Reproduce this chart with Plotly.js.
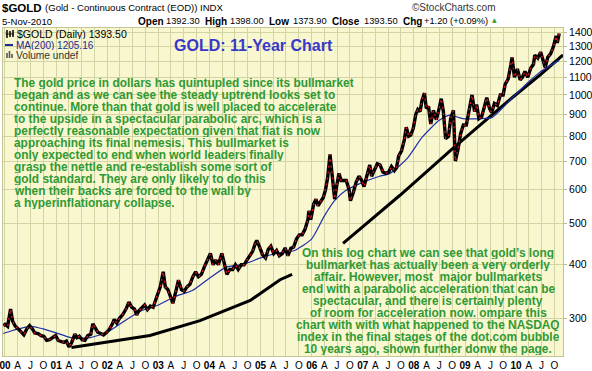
<!DOCTYPE html>
<html><head><meta charset="utf-8">
<script src="https://cdn.plot.ly/plotly-3.0.1.min.js"></script>
<style>html,body{margin:0;padding:0;background:#fff;overflow:hidden}#chart{width:592px;height:371px}</style>
</head><body><div id="chart"></div>
<script>
// ---- data ----
const goldDates = [
"1999-12-20","2000-01-03","2000-01-20","2000-02-04","2000-02-10","2000-02-25","2000-03-15","2000-04-05","2000-04-25","2000-05-15","2000-06-05","2000-06-25","2000-07-15","2000-08-01","2000-08-25","2000-09-15","2000-10-05","2000-10-25","2000-11-15","2000-12-05","2000-12-28",
"2001-01-15","2001-02-05","2001-02-25","2001-03-15","2001-04-02","2001-04-20","2001-05-15","2001-05-30","2001-06-15","2001-07-05","2001-07-25","2001-08-15","2001-09-05","2001-09-20","2001-10-05","2001-10-25","2001-11-15","2001-12-05","2001-12-28",
"2002-01-15","2002-02-05","2002-02-20","2002-03-10","2002-03-30","2002-04-20","2002-05-15","2002-06-05","2002-06-25","2002-07-15","2002-07-30","2002-08-15","2002-09-05","2002-09-25","2002-10-15","2002-11-05","2002-11-25","2002-12-10","2002-12-30",
"2003-01-15","2003-02-05","2003-02-20","2003-03-10","2003-03-30","2003-04-15","2003-05-05","2003-05-25","2003-06-15","2003-07-05","2003-07-25","2003-08-15","2003-09-05","2003-09-25","2003-10-15","2003-11-05","2003-11-25","2003-12-10","2003-12-30",
"2004-01-08","2004-01-28","2004-02-15","2004-03-05","2004-03-30","2004-04-15","2004-05-05","2004-05-25","2004-06-15","2004-07-05","2004-07-25","2004-08-15","2004-09-05","2004-09-25","2004-10-15","2004-11-05","2004-11-25","2004-12-05","2004-12-25",
"2005-01-15","2005-02-05","2005-02-25","2005-03-15","2005-04-05","2005-04-25","2005-05-15","2005-06-05","2005-06-25","2005-07-15","2005-08-05","2005-08-25","2005-09-15","2005-10-05","2005-10-25","2005-11-15","2005-12-05","2005-12-12","2005-12-25",
"2006-01-15","2006-02-01","2006-02-15","2006-03-05","2006-03-25","2006-04-10","2006-04-25","2006-05-12","2006-05-25","2006-06-14","2006-06-30","2006-07-15","2006-07-30","2006-08-15","2006-09-05","2006-09-25","2006-10-05","2006-10-25","2006-11-15","2006-12-05","2006-12-25",
"2007-01-10","2007-01-30","2007-02-20","2007-03-05","2007-03-25","2007-04-15","2007-05-05","2007-05-25","2007-06-15","2007-07-05","2007-07-25","2007-08-15","2007-08-30","2007-09-15","2007-10-05","2007-10-25","2007-11-08","2007-11-25","2007-12-10","2007-12-28",
"2008-01-15","2008-01-30","2008-02-15","2008-02-28","2008-03-17","2008-03-30","2008-04-15","2008-05-01","2008-05-20","2008-06-10","2008-06-30","2008-07-15","2008-07-30","2008-08-15","2008-09-05","2008-09-20","2008-10-10","2008-10-24","2008-11-10","2008-11-30","2008-12-20",
"2009-01-10","2009-01-30","2009-02-20","2009-03-10","2009-03-25","2009-04-10","2009-04-30","2009-05-20","2009-06-05","2009-06-25","2009-07-10","2009-07-30","2009-08-20","2009-09-10","2009-09-30","2009-10-15","2009-11-05","2009-11-25","2009-12-03","2009-12-20",
"2010-01-10","2010-01-30","2010-02-15","2010-03-05","2010-03-25","2010-04-15","2010-05-05","2010-05-15","2010-06-05","2010-06-25","2010-07-15","2010-07-28","2010-08-15","2010-09-05","2010-09-25","2010-10-14","2010-10-22","2010-11-05"];
const goldClose = [
288,290,287,310,315,295,287,283,278,274,283,288,283,277,276,273,272,266,267,270,273,
266,264,263,265,257,262,275,270,272,267,266,273,275,291,286,278,276,274,278,
282,290,298,292,300,305,315,327,318,315,305,312,318,322,314,320,318,328,345,
355,385,355,350,333,325,345,368,350,347,355,360,375,385,375,380,395,405,415,
425,400,410,400,425,405,380,390,390,400,390,400,400,410,420,430,450,456,440,
422,415,435,442,425,432,420,425,438,420,437,440,460,470,470,485,510,535,510,
555,570,550,560,575,600,640,725,660,570,615,655,630,630,630,600,565,590,625,645,630,
610,650,685,645,665,690,685,660,655,660,680,665,675,720,740,785,840,800,805,835,
900,925,915,970,1010,930,940,855,920,875,930,980,915,790,800,880,920,700,740,810,850,
850,920,1000,915,950,880,890,940,985,930,910,955,945,1000,1000,1060,1090,1180,1225,1100,
1150,1085,1100,1135,1100,1155,1180,1240,1220,1260,1205,1160,1225,1250,1300,1375,1325,1393];

const maDates = ["1999-12-20","2000-03-01","2000-07-01","2000-10-01","2001-01-01","2001-04-15","2001-09-01","2002-01-01","2002-05-01","2002-09-01","2003-01-01","2003-05-01","2003-09-01","2004-01-01","2004-05-01","2004-09-01","2005-01-01","2005-05-01","2005-09-01","2006-01-01","2006-04-01","2006-06-15","2006-09-01","2007-01-01","2007-05-01","2007-07-15","2007-11-15","2008-03-01","2008-07-01","2008-09-15","2008-12-15","2009-04-15","2009-07-15","2009-12-10","2010-04-15","2010-06-20","2010-11-05"];
const maValues = [276,281,287,283,277,270,270,278,295,312,322,337,348,372,395,401,415,426,432,460,520,566,597,624,645,655,710,796,872,897,880,880,886,989,1084,1131,1205];

const trendDates = ["2001-04-20","2001-11-10","2002-11-02","2003-10-26","2004-10-19","2005-05-20","2005-08-14","2006-01-01","2006-08-13","2007-09-24","2008-10-08","2009-12-10","2010-06-22","2010-12-02"];
const trendValues = [256,262,273,296,330,369,380,null,449,582,751,989,1114,1241];

const yTickValues = [300,400,500,600,700,800,900,1000,1100,1200,1300,1400];
const yTickLabels = ["300","400","500","600","700","800","900","1000","1100","1200","1300","1400"];
const xTickDates = [
"2000-01-01","2000-04-01","2000-07-01","2000-10-01","2001-01-01","2001-04-01","2001-07-01","2001-10-01",
"2002-01-01","2002-04-01","2002-07-01","2002-10-01","2003-01-01","2003-04-01","2003-07-01","2003-10-01",
"2004-01-01","2004-04-01","2004-07-01","2004-10-01","2005-01-01","2005-04-01","2005-07-01","2005-10-01",
"2006-01-01","2006-04-01","2006-07-01","2006-10-01","2007-01-01","2007-04-01","2007-07-01","2007-10-01",
"2008-01-01","2008-04-01","2008-07-01","2008-10-01","2009-01-01","2009-04-01","2009-07-01","2009-10-01",
"2010-01-01","2010-04-01","2010-07-01","2010-10-01"];
const xTickLabels = [
"<b>00</b>","A","J","O","<b>01</b>","A","J","O","<b>02</b>","A","J","O","<b>03</b>","A","J","O",
"<b>04</b>","A","J","O","<b>05</b>","A","J","O","<b>06</b>","A","J","O","<b>07</b>","A","J","O",
"<b>08</b>","A","J","O","<b>09</b>","A","J","O","<b>10</b>","A","J","O"];

const headerLabels = ["Open","High","Low","Close","Chg"];
const headerValues = ["1392.30","1398.00","1373.90","1393.50","+1.20 (+0.09%)"];

const note1Lines = [
"The gold price in dollars has quintupled since its bullmarket",
"began and as we can see the steady uptrend looks set to",
"continue. More than that gold is well placed to accelerate",
"to the upside in a spectacular parabolic arc, which is a",
"perfectly reasonable expectation given that fiat is now",
"approaching its final nemesis. This bullmarket is",
"only expected to end when world leaders finally",
"grasp the nettle and re-establish some sort of",
"gold standard. They are only likely to do this",
"when their backs are forced to the wall by",
"a hyperinflationary collapse."];
const note2Lines = [
"On this log chart we can see that gold\u2019s long",
"bullmarket has actually been a very orderly",
"affair. However, most  major bullmarkets",
"end with a parabolic acceleration that can be",
"spectacular, and there is certainly plenty",
"of room for acceleration now. ompare this",
"chart with with what happened to the NASDAQ",
"index in the final stages of the dot.com bubble",
"10 years ago, shown further donw the page."];

// ---- layout helpers (pixel -> paper) ----
const L = 3, T = 28, W = 560, H = 328;
const px = x => (x - L) / W;
const py = y => (T + H - y) / H;
const FONT = "Liberation Sans, Arial, sans-serif";
const GREEN = "#2f9a34";

function txt(x, y, text, opts) {
  opts = opts || {};
  return Object.assign({
    xref: "paper", yref: "paper", x: px(x), y: py(y), text: text,
    showarrow: false, xanchor: "left", yanchor: "middle",
    font: {family: FONT, size: 10, color: "#000"}, borderpad: 0
  }, opts);
}

const annotations = [];
annotations.push(txt(1, 8, "<b>$GOLD</b>", {font: {family: FONT, size: 11.5, color: "#000"}}));
annotations.push(txt(44, 8, "(Gold - Continuous Contract (EOD))", {font: {family: FONT, size: 9.6, color: "#000"}}));
annotations.push(txt(199, 8, "INDX", {font: {family: FONT, size: 9.6, color: "#000"}}));
annotations.push(txt(497, 7, "\u00a9StockCharts.com", {xanchor: "right", font: {family: FONT, size: 10, color: "#333"}}));
annotations.push(txt(1, 21, "5-Nov-2010", {font: {family: FONT, size: 9.6, color: "#000"}}));
const hdrLabelX = [137, 204, 268, 331, 402];
const hdrValueX = [165, 229, 292, 363, 423];
for (let i = 0; i < headerLabels.length; i++) {
  annotations.push(txt(hdrLabelX[i], 21, "<b>" + headerLabels[i] + "</b>", {font: {family: FONT, size: 10, color: "#000"}}));
  annotations.push(txt(hdrValueX[i], 21, headerValues[i], {font: {family: FONT, size: 9.3, color: "#000"}}));
}
annotations.push(txt(491, 20, "\u25b2", {font: {family: "DejaVu Sans", size: 6, color: "#2f9a34"}}));

// legend inside plot
annotations.push(txt(16, 34, "$GOLD (Daily) 1393.50", {height: 10, font: {family: FONT, size: 10.5, color: "#000"}}));
annotations.push(txt(15, 45, "MA(200) 1205.16", {height: 10, font: {family: FONT, size: 10, color: "#1a2a96"}}));
annotations.push(txt(15, 55, "Volume undef", {height: 10, font: {family: FONT, size: 10.2, color: "#333"}}));

// chart title
annotations.push(txt(253, 45, "<b>GOLD: 11-Year Chart</b>", {xanchor: "center", font: {family: FONT, size: 16, color: "#3838c8"}}));

note1Lines.forEach((s, i) => annotations.push(txt(13, 83 + 12 * i, "<b>" + s + "</b>", {height: 12, font: {family: FONT, size: 11.9, color: GREEN}})));
note2Lines.forEach((s, i) => annotations.push(txt(428, 253 + 12 * i, "<b>" + s + "</b>", {height: 12, xanchor: "center", font: {family: FONT, size: 11.9, color: GREEN}})));

// small legend glyphs
const shapes = [];
function seg(x0, y0, x1, y1, color, width) {
  shapes.push({type: "line", xref: "paper", yref: "paper", x0: px(x0), y0: py(y0), x1: px(x1), y1: py(y1), line: {color: color, width: width}});
}
seg(7, 30, 7, 38, "#000", 1.5); seg(10, 31, 10, 37, "#000", 1.5); seg(13, 30, 13, 37, "#000", 1.5);
seg(5.5, 34, 14, 34, "#000", 0.8);
seg(5, 45, 13, 45, "#1a2a96", 2);
seg(7, 58, 7, 53, "#555", 1.6); seg(9.5, 58, 9.5, 51, "#555", 1.6); seg(12, 58, 12, 54, "#555", 1.6);

const traces = [
  {x: trendDates, y: trendValues, type: "scatter", mode: "lines", connectgaps: false,
   line: {color: "#000", width: 3}, hoverinfo: "skip"},
  {x: maDates, y: maValues, type: "scatter", mode: "lines", line: {color: "#1f2fa8", width: 1.2, shape: "spline", smoothing: 0.6}, hoverinfo: "skip"},
  {x: goldDates, y: goldClose, type: "scatter", mode: "lines", line: {color: "#000", width: 3.4}, hoverinfo: "skip"},
  {x: goldDates, y: goldClose, type: "scatter", mode: "lines", line: {color: "#e0102a", width: 1.3, dash: "2px,4px"}, hoverinfo: "skip"}
];

const GRID = "#d3d4a4";
const layout = {
  width: 592, height: 371,
  margin: {l: L, r: 592 - L - W, t: T, b: 371 - T - H, pad: 0},
  paper_bgcolor: "#ffffff", plot_bgcolor: "#f8f7d0",
  showlegend: false,
  font: {family: FONT, size: 10, color: "#000"},
  xaxis: {
    type: "date", range: ["1999-12-18", "2010-12-02"], fixedrange: true,
    tickmode: "array", tickvals: xTickDates, ticktext: xTickLabels,
    ticks: "", showgrid: true, gridcolor: GRID, gridwidth: 1,
    showline: true, mirror: true, linecolor: "#c4c592", linewidth: 1,
    ticklabeloverflow: "allow",
    tickfont: {family: FONT, size: 10, color: "#000"}, zeroline: false
  },
  yaxis: {
    type: "log", range: [Math.log10(244.5), Math.log10(1435)], side: "right", fixedrange: true,
    tickmode: "array", tickvals: yTickValues, ticktext: yTickLabels,
    ticks: "outside", ticklen: 3, tickcolor: "#b9ba86",
    showgrid: true, gridcolor: GRID, gridwidth: 1,
    showline: true, mirror: true, linecolor: "#c4c592", linewidth: 1,
    ticklabeloverflow: "allow",
    tickfont: {family: FONT, size: 10.5, color: "#000"}, zeroline: false
  },
  annotations: annotations,
  shapes: shapes
};

Plotly.newPlot("chart", traces, layout, {staticPlot: true, displayModeBar: false});
</script></body></html>
